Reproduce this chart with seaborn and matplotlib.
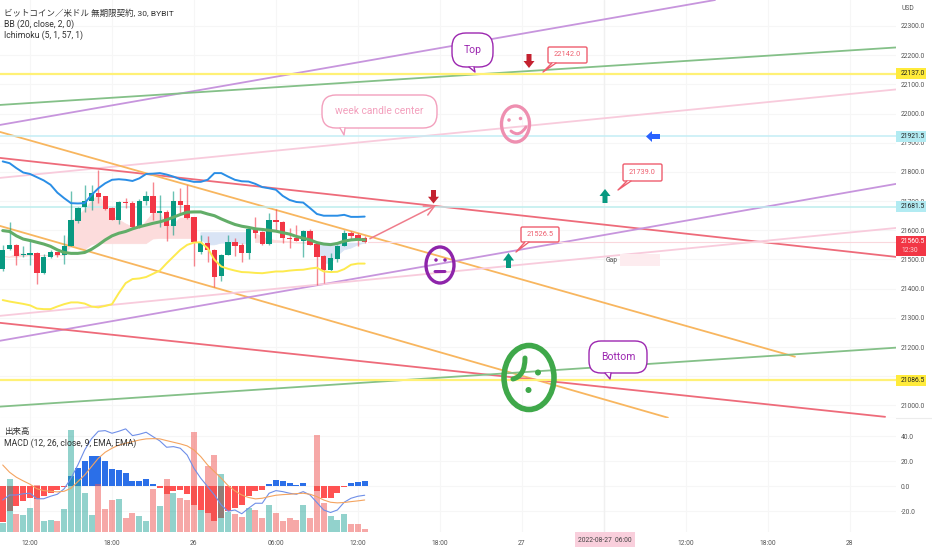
import numpy as np
import pandas as pd
import seaborn as sns
import matplotlib.pyplot as plt
from matplotlib.lines import Line2D
from matplotlib.path import Path
from matplotlib.patches import Ellipse, FancyBboxPatch, PathPatch, Polygon
from matplotlib.transforms import Affine2D

# candles, bar 0 is 12:00 on the 25th, 30 minute bars
bars = np.arange(-4, 50)
opens = [21467, 21535, 21550, 21514, 21516, 21522, 21453, 21508, 21525, 21516, 21547, 21632, 21681, 21702, 21729, 21716, 21675, 21636, 21697, 21693, 21610, 21702, 21718, 21661, 21663, 21615, 21699, 21686, 21644, 21527, 21558, 21533, 21442, 21516, 21561, 21550, 21522, 21602, 21595, 21553, 21634, 21630, 21575, 21573, 21565, 21598, 21553, 21513, 21463, 21502, 21547, 21590, 21584, 21574]
closes = [21533, 21550, 21513, 21518, 21522, 21453, 21510, 21526, 21515, 21547, 21634, 21678, 21702, 21729, 21713, 21672, 21636, 21696, 21693, 21610, 21702, 21718, 21659, 21666, 21615, 21699, 21686, 21642, 21559, 21556, 21533, 21440, 21517, 21561, 21547, 21522, 21605, 21592, 21553, 21634, 21628, 21574, 21571, 21565, 21598, 21550, 21510, 21463, 21505, 21547, 21591, 21582, 21567, 21560.5]
highs = [21550, 21627, 21554, 21545, 21567, 21524, 21519, 21533, 21527, 21584, 21733, 21681, 21756, 21756, 21805, 21718, 21681, 21699, 21710, 21699, 21707, 21733, 21767, 21721, 21670, 21733, 21744, 21756, 21647, 21584, 21581, 21535, 21519, 21584, 21573, 21556, 21607, 21645, 21598, 21659, 21672, 21632, 21607, 21619, 21602, 21604, 21556, 21516, 21522, 21550, 21602, 21596, 21590, 21581]
lows = [21459, 21533, 21482, 21508, 21482, 21417, 21451, 21505, 21510, 21485, 21545, 21624, 21664, 21670, 21693, 21670, 21634, 21622, 21676, 21607, 21607, 21687, 21634, 21613, 21562, 21584, 21659, 21638, 21478, 21519, 21493, 21405, 21428, 21514, 21513, 21493, 21501, 21573, 21550, 21550, 21602, 21556, 21539, 21562, 21508, 21548, 21413, 21419, 21461, 21491, 21545, 21570, 21545, 21558]

# bollinger bands
bb_upper = [21836, 21830, 21813, 21798, 21793, 21782, 21771, 21756, 21729, 21710, 21693, 21692, 21693, 21721, 21744, 21761, 21773, 21775, 21773, 21769, 21778, 21793, 21794, 21796, 21791, 21784, 21775, 21771, 21766, 21766, 21773, 21796, 21796, 21784, 21773, 21768, 21767, 21759, 21748, 21744, 21739, 21718, 21704, 21697, 21695, 21676, 21656, 21650, 21650, 21650, 21653, 21646, 21646, 21647]
bb_mid = [21599, 21596, 21581, 21570, 21565, 21559, 21553, 21545, 21533, 21524, 21521, 21521, 21524, 21535, 21550, 21567, 21581, 21590, 21596, 21605, 21612, 21618, 21624, 21629, 21636, 21645, 21654, 21662, 21663, 21663, 21656, 21650, 21639, 21629, 21620, 21614, 21610, 21605, 21603, 21600, 21597, 21592, 21587, 21579, 21573, 21567, 21558, 21553, 21551, 21555, 21563, 21567, 21569, 21567]
bb_lower = [21361, 21356, 21352, 21348, 21343, 21332, 21330, 21330, 21339, 21347, 21353, 21353, 21349, 21339, 21336, 21341, 21347, 21385, 21419, 21433, 21435, 21440, 21451, 21462, 21487, 21510, 21533, 21550, 21558, 21559, 21539, 21499, 21476, 21468, 21462, 21457, 21456, 21454, 21453, 21456, 21459, 21459, 21462, 21464, 21465, 21469, 21472, 21459, 21457, 21458, 21467, 21482, 21486, 21486]

# ichimoku cloud edges
cloud_top = [21510, 21508, 21519, 21519, 21515, 21513, 21513, 21513, 21513, 21513, 21630, 21647, 21670, 21699, 21721, 21687, 21653, 21636, 21622, 21611, 21604, 21630, 21659, 21659, 21619, 21619, 21642, 21642, 21642, 21592, 21592, 21592, 21592, 21592, 21592, 21592, 21592, 21590, 21576, 21570, 21565, 21563, 21561, 21558, 21558, 21558, 21556, 21556, 21556, 21556, 21556, 21556, 21556, 21558]
cloud_bottom = [21510, 21508, 21508, 21510, 21513, 21513, 21513, 21513, 21513, 21513, 21545, 21542, 21533, 21550, 21556, 21554, 21554, 21554, 21554, 21554, 21554, 21554, 21570, 21572, 21572, 21572, 21572, 21572, 21572, 21570, 21550, 21550, 21556, 21556, 21554, 21554, 21554, 21558, 21558, 21558, 21558, 21558, 21558, 21556, 21556, 21556, 21545, 21487, 21487, 21513, 21533, 21539, 21550, 21556]
cloud_bullish = [False] * 29 + [True] * 8 + [False] * 9 + [True] * 8

# pane below
volume = [28, 160, 54, 50, 72, 140, 32, 37, 33, 70, 306, 160, 117, 50, 145, 68, 95, 100, 42, 57, 48, 33, 128, 78, 158, 118, 103, 95, 300, 65, 198, 230, 175, 60, 55, 45, 72, 65, 43, 80, 58, 33, 42, 35, 80, 42, 290, 87, 47, 37, 55, 25, 25, 8]
macd_hist = [-28.8, -20, -15.5, -12, -9, -10, -8, -5, -3, -0.3, 8, 15, 20, 24, 24.5, 20, 14, 13, 11, 4, 4.5, 6, 1.6, -1, -6, -4, -3, -6, -15, -19, -21.5, -28, -25.5, -20, -17, -15, -8, -4, -3, 2, 5, 4, 2.5, 1, 2.4, 0, -4, -9, -9, -5, -0.5, 2.7, 3.7, 4]
macd_line = [-11, -7, -7, -6, -5.6, -10, -10, -8, -6.4, -2, 6.4, 17, 29, 38, 44, 44.5, 42.4, 44, 45.9, 40.5, 41.6, 43.2, 39.7, 36.3, 31.2, 31.7, 30.4, 25, 14.4, 6.4, -0.3, -7, -15, -20, -19, -22, -17.6, -13.6, -13.6, -5.6, -3.5, -4.3, -5.6, -6.4, -4.3, -7, -13, -19, -21, -19, -12.8, -9.6, -8, -7.2]
macd_signal = [17, 11.2, 7.2, 4.3, 1.6, -2, -3.5, -4, -4.5, -4, -1.6, 3.7, 9, 15.7, 22.4, 27.2, 30.4, 33, 34.4, 35.7, 37, 37.9, 38.1, 37.9, 36.5, 35.2, 33.9, 32.3, 29, 23.7, 17, 11.7, 6.4, 0.5, -3.7, -7, -9, -10.1, -9.6, -8.3, -7.2, -6.7, -6.4, -5.9, -5.6, -6.4, -8.3, -11, -12.8, -13.3, -13, -12.3, -11.7, -11]

# drawn trend lines: bar and price at both ends
trend_x0 = [-4.4, -4.4, -4.4, -4.4, -4.4, -4.4, -4.4, -4.4, -4.4, -4.4]
trend_p0 = [21961, 22029.5, 21779.6, 21848, 21937, 21615, 21221.6, 21307, 21283, 20996]
trend_x1 = [100.3, 126.8, 126.8, 126.8, 112, 93.4, 126.8, 126.8, 125.2, 126.8]
trend_p1 = [22389, 22226.4, 22082.6, 21509, 21167, 20958, 21759, 21608, 20961, 21198]
trend_kind = ["purple", "green", "pink", "red", "orange", "orange", "purple", "pink", "red", "green"]

level_prices = [22137.0, 21921.5, 21681.5, 21086.5]
level_colors = ["#fff176", "#c4eef5", "#bdeeee", "#fff176"]
level_labels = ["22137.0", "21921.5", "21681.5", "21086.5"]
level_boxes = ["#ffeb3b", "#b2ebf2", "#b2ebf2", "#ffeb3b"]

price_ticks = [21000, 21100, 21200, 21300, 21400, 21500, 21600, 21700, 21800, 21900, 22000, 22100, 22200, 22300]
price_labels = ["21000.0", "", "21200.0", "21300.0", "21400.0", "21500.0", "21600.0", "21700.0", "21800.0", "21900.0", "22000.0", "22100.0", "22200.0", "22300.0"]
macd_ticks = [-20, 0, 20, 40]
time_ticks = [0, 12, 24, 36, 48, 60, 72, 84, 96, 108, 120]
time_labels = ["12:00", "18:00", "26", "06:00", "12:00", "18:00", "27", "", "12:00", "18:00", "28"]

sns.set_theme(style="white")
plt.rcParams['font.family'] = ['Roboto', 'Noto Sans CJK JP', 'DejaVu Sans']

UP = "#089981"
DOWN = "#f23645"
TREND = {"purple": "#c795dd", "green": "#84c088", "pink": "#f8cbdc", "red": "#ee6b7a", "orange": "#f8b65f"}
AXIS_TEXT = "#555555"
GRID = "#f6f6f6"
SCALE_SIZE = 4.9
W, H = 932, 550

fig = plt.figure(figsize=(W / 100, H / 100), dpi=100, facecolor="white")
ax = fig.add_axes([0, 1 - 418 / H, 896 / W, 418 / H])
pane = fig.add_axes([0, 1 - 532 / H, 896 / W, 114 / H])

# everything hand drawn on the chart is placed in picture pixels
px = Affine2D().scale(1, -1).translate(0, H)

df = pd.DataFrame({"bar": bars, "open": opens, "close": closes, "high": highs, "low": lows,
                   "upper": bb_upper, "mid": bb_mid, "lower": bb_lower,
                   "top": cloud_top, "bottom": cloud_bottom, "bullish": cloud_bullish,
                   "volume": volume, "hist": macd_hist, "macd": macd_line, "signal": macd_signal})
df["rising"] = df["close"] >= df["open"]

ax.set_axisbelow(True)
ax.grid(True, color=GRID, lw=0.8)
ax.fill_between(df.bar, df.top, df.bottom, where=~df.bullish, color="#fcdcdc", lw=0.5, zorder=1)
ax.fill_between(df.bar, df.top, df.bottom, where=df.bullish, color="#d9e4f5", lw=0.5, zorder=1)

for kind, x0, p0, x1, p1 in zip(trend_kind, trend_x0, trend_p0, trend_x1, trend_p1):
    sns.lineplot(x=[x0, x1], y=[p0, p1], color=TREND[kind], lw=1.3, ax=ax, zorder=2)
for price, color in zip(level_prices, level_colors):
    ax.axhline(price, color=color, lw=1.6 if color == "#fff176" else 1.1, zorder=2)
ax.axvline(84, color="#f0f0f0", lw=1, zorder=1)
ax.axhline(closes[-1], xmin=(49.5 + 4.4) / 131.2, color="#fad7dc", lw=0.8, zorder=2)

colors = [UP if r else DOWN for r in df.rising]
ax.vlines(df.bar, df.low, df.high, colors=[c + "99" for c in colors], lw=1, zorder=3)
ax.bar(df.bar, df.close - df.open, bottom=df.open, width=0.78, color=colors, linewidth=0, zorder=3)

sns.lineplot(data=df, x="bar", y="upper", color="#2a8ee6", lw=1.4, ax=ax, zorder=4)
sns.lineplot(data=df, x="bar", y="lower", color="#fdea4f", lw=1.4, ax=ax, zorder=4)
sns.lineplot(data=df, x="bar", y="mid", color="#62ad68", lw=2.2, ax=ax, zorder=4)

ax.annotate("", xy=(59.8, 21690), xytext=(49.4, 21567),
            arrowprops=dict(arrowstyle="->", color="#ef7d8c", lw=1.1, mutation_scale=18), zorder=5)

ax.set_xlim(-4.4, 126.8)
ax.set_ylim(20957, 22389)
ax.set_xticks(time_ticks)
ax.set_xticklabels([])
ax.set_yticks(price_ticks)
ax.set_yticklabels(price_labels)
ax.yaxis.tick_right()
ax.tick_params(axis="y", length=0, pad=3.6, labelsize=SCALE_SIZE, labelcolor=AXIS_TEXT)
ax.tick_params(axis="x", length=0)
ax.set_xlabel("")
ax.set_ylabel("")
for s in ax.spines.values():
    s.set_visible(False)

# lower pane: histogram under volume, lines on top
pane.set_axisbelow(True)
pane.grid(True, color=GRID, lw=0.8)
df["hist_dir"] = np.where(df["hist"] >= 0, "pos", "neg")
df["vol_dir"] = np.where(df["rising"], "up", "down")
sns.barplot(data=df, x="bar", y="hist", hue="hist_dir", palette={"pos": "#2b6fe8", "neg": "#ff5252"},
            native_scale=True, dodge=False, width=0.88, saturation=1, linewidth=0, legend=False, ax=pane, zorder=2)
vol_ax = pane.twinx()
sns.barplot(data=df, x="bar", y="volume", hue="vol_dir", palette={"up": "#26a69a", "down": "#ef5350"},
            native_scale=True, dodge=False, width=0.88, saturation=1, linewidth=0, alpha=0.5, legend=False, ax=vol_ax)
line_ax = pane.twinx()
sns.lineplot(data=df, x="bar", y="macd", color="#6f8fe8", lw=0.8, ax=line_ax)
sns.lineplot(data=df, x="bar", y="signal", color="#f4a460", lw=0.8, ax=line_ax)
pane.axvline(84, color="#f0f0f0", lw=1, zorder=1)

pane.set_ylim(-36.6, 54.6)
line_ax.set_ylim(-36.6, 54.6)
vol_ax.set_ylim(0, 342)
for a in (pane, vol_ax, line_ax):
    a.set_xlim(-4.4, 126.8)
    a.set_xlabel("")
    a.set_ylabel("")
    for s in a.spines.values():
        s.set_visible(False)
vol_ax.set_yticks([])
line_ax.set_yticks([])
pane.set_yticks(macd_ticks)
pane.set_yticklabels([f"{v:.1f}" for v in macd_ticks])
pane.yaxis.tick_right()
pane.tick_params(axis="y", length=0, pad=3.6, labelsize=SCALE_SIZE, labelcolor=AXIS_TEXT)
pane.set_xticks(time_ticks)
pane.set_xticklabels(time_labels)
pane.tick_params(axis="x", length=0, pad=5.5, labelsize=SCALE_SIZE, labelcolor=AXIS_TEXT)
pane.set_zorder(1)
vol_ax.set_zorder(2)
line_ax.set_zorder(3)
vol_ax.patch.set_visible(False)
line_ax.patch.set_visible(False)


def note(x, y, s, size=6, color="#333333", ha="left", va="center"):
    fig.text(x, y, s, transform=px, fontsize=size, color=color, ha=ha, va=va, zorder=12)


def block_arrow(x, y0, y1, color):
    # tip at y1
    neck = y0 + (y1 - y0) * 0.5
    pts = [(x - 2.5, y0), (x + 2.5, y0), (x + 2.5, neck), (x + 5.5, neck), (x, y1), (x - 5.5, neck), (x - 2.5, neck)]
    fig.add_artist(Polygon(pts, closed=True, color=color, lw=0, transform=px, zorder=11))


def bubble(x0, y0, x1, y1, r, tail, color, text, size, lw=1):
    fig.add_artist(FancyBboxPatch((x0, y0), x1 - x0, y1 - y0, boxstyle=f"round,pad=0,rounding_size={r}",
                                  mutation_scale=1, fc="white", ec=color, lw=lw, transform=px, zorder=10))
    fig.add_artist(Polygon(tail, closed=True, fc="white", ec="none", transform=px, zorder=10.5))
    xs, ys = zip(*tail)
    fig.add_artist(Line2D(xs, ys, color=color, lw=lw, transform=px, zorder=10.6))
    note((x0 + x1) / 2, (y0 + y1) / 2, text, size=size, color=color, ha="center")


def face(cx, cy, rx, ry, color, lw, eyes, eye_size, mouth):
    fig.add_artist(Ellipse((cx, cy), 2 * rx, 2 * ry, fc="none", ec=color, lw=lw, transform=px, zorder=11))
    for ex, ey in eyes:
        fig.add_artist(Ellipse((ex, ey), eye_size, eye_size, fc=color, ec="none", transform=px, zorder=11))
    codes = [Path.MOVETO] + [Path.CURVE3] * (len(mouth) - 1)
    fig.add_artist(PathPatch(Path(mouth, codes), fc="none", ec=color, lw=lw * 0.9, capstyle="round",
                             transform=px, zorder=11))


# legend lines
note(4, 12.5, "ビットコイン／米ドル 無期限契約, 30, BYBIT", size=6.1)
note(4, 24, "BB (20, close, 2, 0)", size=6.2)
note(4, 35, "Ichimoku (5, 1, 57, 1)", size=6.2)
note(4, 431, "出来高", size=6.1)
note(4, 443, "MACD (12, 26, close, 9, EMA, EMA)", size=6.2)
note(901, 8, "USD", size=SCALE_SIZE, color=AXIS_TEXT)

# price tags on the scale
tag_y = [73.5, 136.5, 206.5, 380]
for label, box, y in zip(level_labels, level_boxes, tag_y):
    fig.add_artist(FancyBboxPatch((896, y - 5.5), 30, 11, boxstyle="square,pad=0", fc=box, ec="none", transform=px, zorder=10))
    note(901, y, label, size=SCALE_SIZE, color="#222222")
fig.add_artist(FancyBboxPatch((896, 236), 30, 20, boxstyle="square,pad=0", fc="#f23645", ec="none", transform=px, zorder=10))
note(901, 241.5, "21560.5", size=SCALE_SIZE, color="white")
note(901, 250.5, "12:30", size=SCALE_SIZE, color="#fbd0d5")

# crosshair date tag
fig.add_artist(FancyBboxPatch((575, 532), 60, 15, boxstyle="square,pad=0", fc="#f9cfdc", ec="none", transform=px, zorder=10))
note(605, 540.5, "2022-08-27  06:00", size=SCALE_SIZE, color="#444444", ha="center")

# Gap marker
fig.add_artist(FancyBboxPatch((620, 254), 40, 12, boxstyle="square,pad=0", fc="#fdecef", ec="none", transform=px, zorder=9))
note(606, 260.5, "Gap", size=SCALE_SIZE, color="#555555")

# arrows
block_arrow(529, 54, 68, "#c4212f")
block_arrow(433.5, 190, 203.5, "#c4212f")
block_arrow(508.5, 268, 253, UP)
block_arrow(605, 203, 189, UP)
fig.add_artist(Polygon([(660, 134), (660, 139), (652, 139), (652, 142), (646, 136.5), (652, 131), (652, 134)],
                       closed=True, color="#2962ff", lw=0, transform=px, zorder=11))

# price callouts
RED_NOTE = "#ee5e6e"
bubble(548, 47, 587, 63, 1.5, [(552, 63), (543, 72), (556, 63)], RED_NOTE, "22142.0", 5.3)
bubble(623, 164, 662, 181, 1.5, [(627, 181), (618, 190), (631, 181)], RED_NOTE, "21739.0", 5.3)
bubble(521, 227, 559, 242, 1.5, [(525, 242), (516, 252), (529, 242)], RED_NOTE, "21526.5", 5.3)

# speech bubbles
bubble(452, 33, 493, 67, 14, [(469, 67), (475, 72), (474, 67)], "#9c27b0", "Top", 7.5)
bubble(322, 95, 437, 128, 14, [(340, 128), (344, 135), (345, 128)], "#f3a0bd", "week candle center", 7.4)
bubble(589, 341, 647, 373, 12, [(605, 373), (610, 379), (611, 373)], "#9c27b0", "Bottom", 7.5)

# faces
face(515.5, 124, 14, 18, "#ee8fb0", 2.4, [(509, 120), (520.5, 118.5)], 3.5,
     [(511, 131), (519, 138), (526, 127)])
face(440, 265, 14, 18, "#8e24aa", 2.4, [(436, 260), (445, 260)], 3.5,
     [(435, 271.5), (440, 271.5), (445, 271.5)])
face(529, 377.5, 25, 32, "#3fa84a", 4, [(538, 372.5), (528.5, 390)], 6,
     [(525, 358), (525, 376), (513, 379)])

# separator between panes
fig.add_artist(Line2D([0, 932], [418, 418], color="#ececec", lw=0.8, transform=px, zorder=0.5))

fig.savefig("out.png", dpi=100)
